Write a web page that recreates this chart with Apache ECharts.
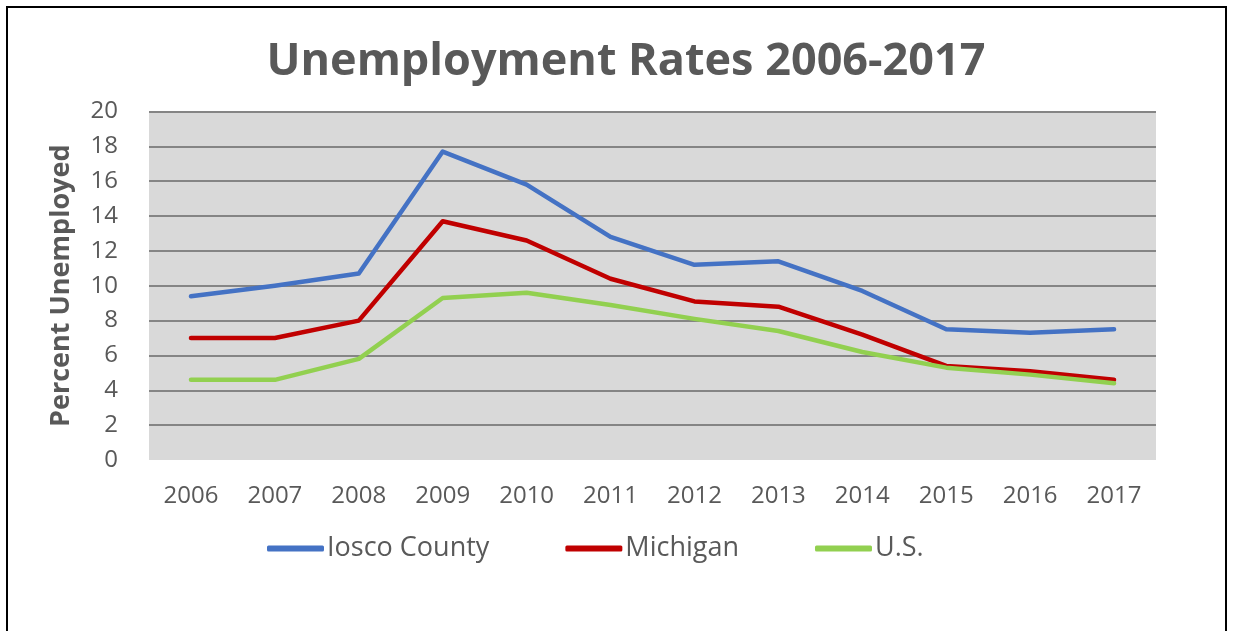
<!DOCTYPE html>
<html>
<head>
<meta charset="utf-8">
<script src="https://cdn.jsdelivr.net/npm/echarts@6/dist/echarts.min.js"></script>
<style>
  html, body { margin: 0; padding: 0; background: #ffffff; }
  #chart { width: 1234px; height: 631px; }
</style>
</head>
<body>
<div id="chart"></div>
<script>
// Annual unemployment rates (%)
const years = ['2006', '2007', '2008', '2009', '2010', '2011', '2012', '2013', '2014', '2015', '2016', '2017'];
const ioscoCounty = [9.4, 10.0, 10.7, 17.7, 15.8, 12.8, 11.2, 11.4, 9.7, 7.5, 7.3, 7.5];
const michigan = [7.0, 7.0, 8.0, 13.7, 12.6, 10.4, 9.1, 8.8, 7.2, 5.4, 5.1, 4.6];
const us = [4.6, 4.6, 5.8, 9.3, 9.6, 8.9, 8.1, 7.4, 6.2, 5.3, 4.9, 4.4];

const FONT = '"Open Sans", "Noto Sans", sans-serif';
const TEXT = '#595959';

const chart = echarts.init(document.getElementById('chart'), null, { renderer: 'canvas' });

function lineSeries(name, data, color) {
  return {
    name: name,
    type: 'line',
    data: data,
    symbol: 'none',
    smooth: false,
    lineStyle: { color: color, width: 4.5, cap: 'round', join: 'round' },
    itemStyle: { color: color },
    emphasis: { disabled: true }
  };
}

chart.setOption({
  animation: false,
  backgroundColor: '#ffffff',
  title: {
    text: 'Unemployment Rates 2006-2017',
    left: 621,
    top: 35,
    textAlign: 'center',
    textStyle: { fontFamily: FONT, fontWeight: 'bold', fontSize: 45, color: TEXT }
  },
  graphic: [{
    type: 'rect',
    shape: { x: 7, y: 7, width: 1219, height: 700 },
    style: { fill: 'none', stroke: '#000000', lineWidth: 2 },
    silent: true
  }],
  legend: {
    left: 262,
    top: 530,
    icon: 'roundRect',
    itemWidth: 57,
    itemHeight: 6,
    itemGap: 76,
    textStyle: { fontFamily: FONT, fontSize: 27, color: TEXT, padding: [0, 0, 0, -2] },
    data: ['Iosco County', 'Michigan', 'U.S.']
  },
  grid: {
    left: 149,
    right: 78,
    top: 111.5,
    bottom: 171,
    show: true,
    backgroundColor: '#D9D9D9',
    borderWidth: 0
  },
  xAxis: {
    type: 'category',
    data: years,
    boundaryGap: true,
    axisLine: { show: false },
    axisTick: { show: false },
    axisLabel: { fontFamily: FONT, fontSize: 24, color: TEXT, margin: 24 }
  },
  yAxis: {
    type: 'value',
    min: 0,
    max: 20,
    interval: 2,
    name: 'Percent Unemployed',
    nameLocation: 'middle',
    nameRotate: 90,
    nameGap: 74,
    nameTextStyle: { fontFamily: FONT, fontWeight: 'bold', fontSize: 27, color: TEXT },
    axisLine: { show: false },
    axisTick: { show: false },
    axisLabel: { fontFamily: FONT, fontSize: 24, color: TEXT, margin: 31 },
    splitLine: { show: true, showMinLine: false, lineStyle: { color: '#858585', width: 2 } }
  },
  series: [
    lineSeries('Iosco County', ioscoCounty, '#4472C4'),
    lineSeries('Michigan', michigan, '#C00000'),
    lineSeries('U.S.', us, '#92D050')
  ]
});
</script>
</body>
</html>
